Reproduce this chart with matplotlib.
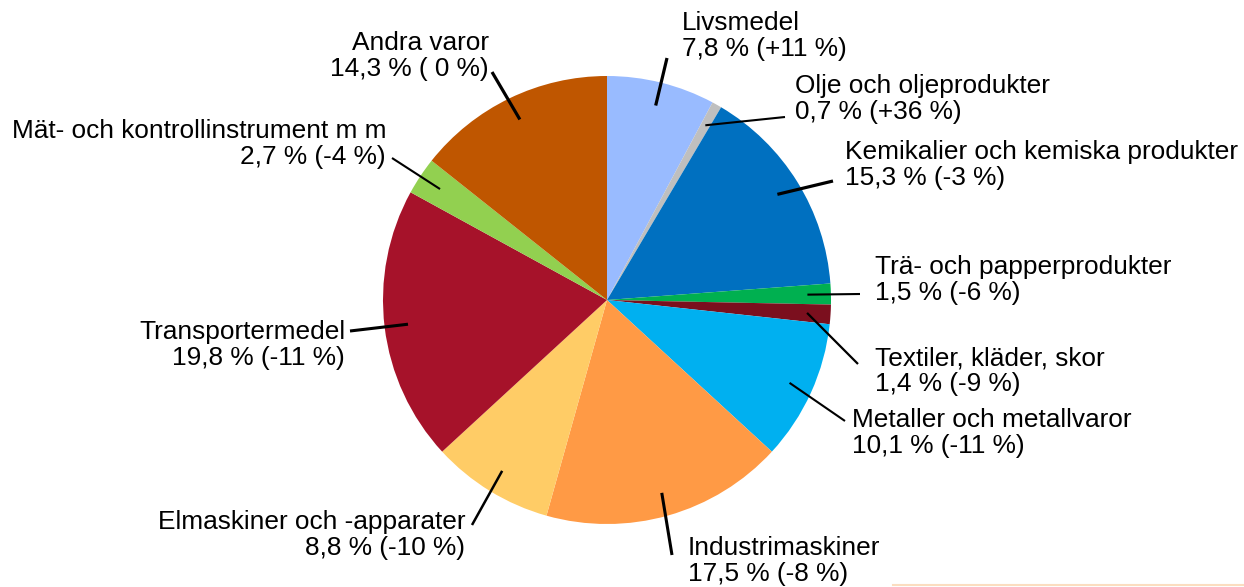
import numpy as np
import matplotlib.pyplot as plt
from matplotlib.lines import Line2D

plt.rcParams['font.family'] = ['Liberation Sans', 'DejaVu Sans']

W, H = 1244, 587

# data: share of exports (%) and change (%)
names = ['Livsmedel', 'Olje och oljeprodukter', 'Kemikalier och kemiska produkter',
         'Trä- och papperprodukter', 'Textiler, kläder, skor', 'Metaller och metallvaror',
         'Industrimaskiner', 'Elmaskiner och -apparater', 'Transportermedel',
         'Mät- och kontrollinstrument m m', 'Andra varor']
shares = [7.8, 0.7, 15.3, 1.5, 1.4, 10.1, 17.5, 8.8, 19.8, 2.7, 14.3]
changes = ['+11', '+36', '-3', '-6', '-9', '-11', '-8', '-10', '-11', '-4', ' 0']
colors = ['#99BBFF', '#BFBFBF', '#0070C0', '#00B050', '#7B0F1E', '#00B0F0',
          '#FF9A45', '#FFCC66', '#A6122A', '#92D050', '#BF5600']

# label layout in pixels: (x, y of text block centre, alignment, leader end, line width)
label_pos = [(682, 36, 'left', (667, 58), 2.3),
             (795, 99, 'left', (785, 117), 1.5),
             (845, 165, 'left', (833, 181), 2.3),
             (875, 280, 'left', (860, 294), 1.5),
             (875, 371, 'left', (858, 364), 1.6),
             (852, 433, 'left', (845, 421), 1.5),
             (688, 561, 'left', (672, 555), 2.2),
             (465, 535, 'right', (472, 525), 1.8),
             (345, 345, 'right', (350, 331), 2.2),
             (386, 144, 'right', (392, 158), 1.5),
             (489, 56, 'right', (492, 72), 2.3)]

fig = plt.figure(figsize=(W / 100, H / 100), dpi=100)
ax = fig.add_axes([0, 0, 1, 1])

cx, cy, R = 607, H - 300, 224
wedges, _ = ax.pie(shares, colors=colors, startangle=90, counterclock=False,
                   center=(cx, cy), radius=R, wedgeprops=dict(linewidth=0))

for w, name, sh, ch, (tx, ty, ha, (lx, ly), lw) in zip(wedges, names, shares, changes, label_pos):
    mid = np.deg2rad((w.theta1 + w.theta2) / 2)
    ix = cx + 0.895 * R * np.cos(mid)
    iy = cy + 0.895 * R * np.sin(mid)
    ax.plot([ix, lx], [iy, H - ly], color='black', lw=lw, solid_capstyle='butt')
    txt = f"{name}\n{sh:.1f} % ({ch} %)".replace('.', ',')
    ax.text(tx, H - ty, txt, ha=ha, va='center', multialignment=ha,
            fontsize=18.9, linespacing=1.09, color='black')

ax.set_xlim(0, W)
ax.set_ylim(0, H)
ax.set_aspect('equal')
ax.axis('off')

fig.add_artist(Line2D([893 / W, 1], [2 / H, 2 / H], color='#FBDDC0', lw=1.5))

fig.savefig('out.png', dpi=100)
